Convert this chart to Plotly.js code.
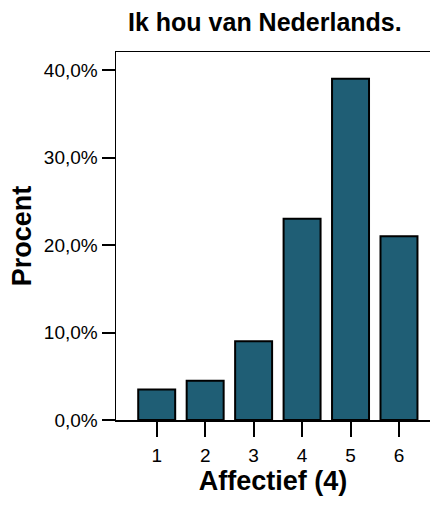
<!DOCTYPE html>
<html>
<head>
<meta charset="utf-8">
<script src="https://cdn.plot.ly/plotly-3.0.1.min.js"></script>
<style>html,body{margin:0;padding:0;background:#fff;}#chart{width:430px;height:510px;}</style>
</head>
<body>
<div id="chart"></div>
<script>
var categories = [1, 2, 3, 4, 5, 6];
var tickLabels = ["1", "2", "3", "4", "5", "6"];
var percentages = [3.5, 4.5, 9.0, 23.0, 39.0, 21.0];
var yTickValues = [0, 10, 20, 30, 40];
var yTickLabels = ["0,0%", "10,0%", "20,0%", "30,0%", "40,0%"];

var FONT = "Liberation Sans, Arial, sans-serif";

var trace = {
  type: "bar",
  x: categories,
  y: percentages,
  marker: {color: "#1f5e75", line: {color: "#000", width: 2}},
  hoverinfo: "skip"
};

var layout = {
  width: 430, height: 510,
  margin: {l: 116, r: 0, t: 52, b: 90},
  paper_bgcolor: "#fff", plot_bgcolor: "#fff",
  showlegend: false,
  bargap: 0.237,
  font: {family: FONT, color: "#000"},
  title: {
    text: "<b>Ik hou van Nederlands.</b>",
    font: {family: FONT, size: 25, color: "#000"},
    xref: "container", x: 0.616, xanchor: "center",
    yref: "container", y: 0.957, yanchor: "middle"
  },
  xaxis: {
    range: [0.16, 6.64],
    tickvals: categories, ticktext: tickLabels,
    showline: true, linecolor: "#000", linewidth: 1.5, mirror: true,
    ticks: "outside", ticklen: 15, tickwidth: 2, tickcolor: "#000",
    ticklabelstandoff: 3,
    showgrid: false, zeroline: false,
    tickfont: {family: FONT, size: 19, color: "#000"},
    title: {text: "<b>Affectief (4)</b>", font: {family: FONT, size: 27, color: "#000"}, standoff: 2}
  },
  yaxis: {
    range: [0, 42.06],
    tickvals: yTickValues, ticktext: yTickLabels,
    showline: true, linecolor: "#000", linewidth: 1.5,
    ticks: "outside", ticklen: 13, tickwidth: 2, tickcolor: "#000",
    showgrid: false, zeroline: false,
    tickfont: {family: FONT, size: 19, color: "#000"},
    title: {text: "<b>Procent</b>", font: {family: FONT, size: 27, color: "#000"}, standoff: 4}
  }
};

Plotly.newPlot("chart", [trace], layout, {staticPlot: true, displayModeBar: false});
</script>
</body>
</html>
